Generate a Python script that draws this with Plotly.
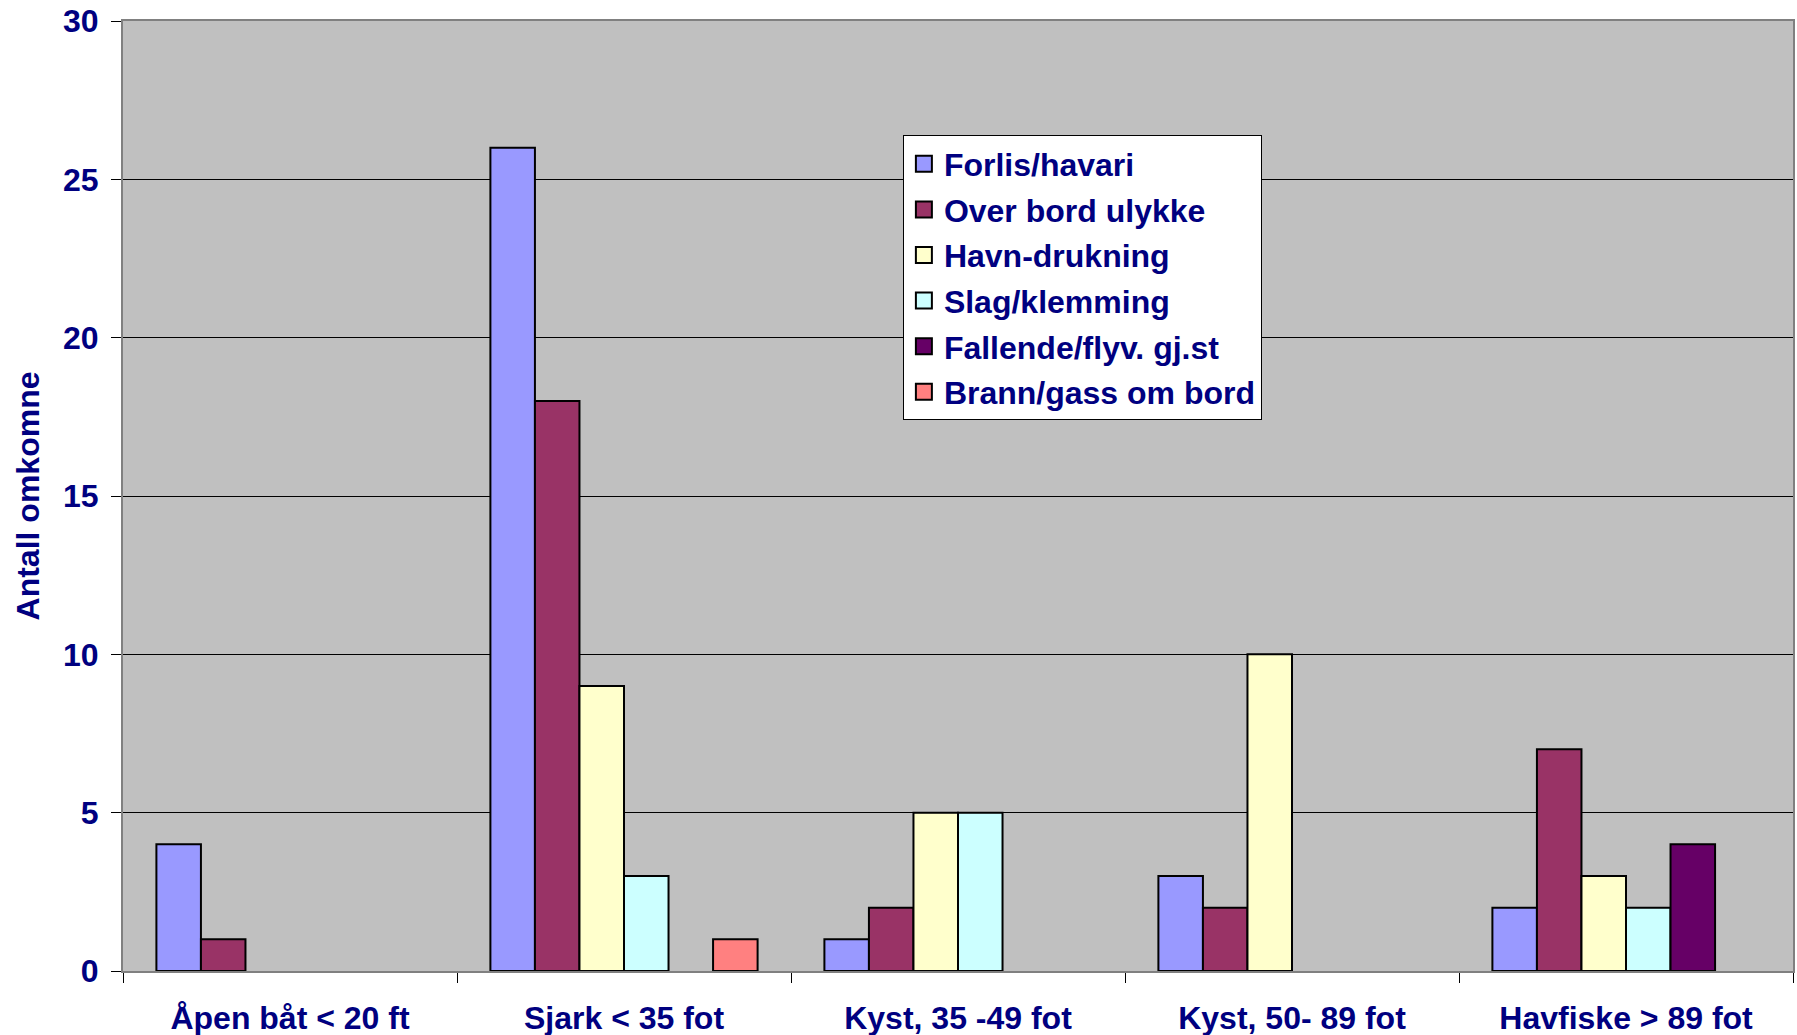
import plotly.graph_objects as go

categories = ["Åpen båt < 20 ft", "Sjark < 35 fot", "Kyst, 35 -49 fot", "Kyst, 50- 89 fot", "Havfiske > 89 fot"]
series_names = ["Forlis/havari", "Over bord ulykke", "Havn-drukning", "Slag/klemming",
                "Fallende/flyv. gj.st", "Brann/gass om bord"]
forlis = [4, 26, 1, 3, 2]
over_bord = [1, 18, 2, 2, 7]
havn = [None, 9, 5, 10, 3]
slag = [None, 3, 5, None, 2]
fallende = [None, None, None, None, 4]
brann = [None, 1, None, None, None]
series_values = [forlis, over_bord, havn, slag, fallende, brann]
colors = ["#9999FF", "#993366", "#FFFFCC", "#CCFFFF", "#660066", "#FF8080"]

navy = "#000080"
font_main = "Liberation Sans, Arial, sans-serif"

fig = go.Figure()
for name, vals, col in zip(series_names, series_values, colors):
    fig.add_trace(go.Bar(x=categories, y=vals, name=name, marker=dict(color=col, line=dict(color="black", width=2)),
                         showlegend=False))
for i, (name, col) in enumerate(zip(series_names, colors)):
    fig.add_trace(go.Scatter(x=[None], y=[None], mode="markers", name=name, legendgroup=f"g{i}",
                             marker=dict(symbol="square", size=20, color=col, line=dict(color="black", width=2))))

fig.update_layout(
    width=1797, height=1035,
    margin=dict(l=123, r=4, t=21, b=64),
    paper_bgcolor="white", plot_bgcolor="#C0C0C0",
    barmode="group", bargap=0.2, bargroupgap=0,
    font=dict(family=font_main, color=navy, size=28),
    legend=dict(x=0.467, y=0.8795, xanchor="left", yanchor="top",
                bgcolor="white", bordercolor="black", borderwidth=1,
                font=dict(family=font_main, size=32, color=navy, weight="bold"),
                traceorder="grouped", tracegroupgap=1, itemsizing="trace"),
    showlegend=True,
)
fig.update_xaxes(
    type="category", tickson="boundaries", ticks="outside", ticklen=10, tickcolor="black",
    ticklabelstandoff=18, automargin=False,
    showgrid=False, showline=True, linecolor="#808080", linewidth=2, mirror=True,
    tickfont=dict(family=font_main, size=32, color=navy, weight="bold"),
)
fig.update_yaxes(
    range=[0, 30], dtick=5, ticks="outside", ticklen=10, tickcolor="black",
    ticklabelstandoff=6, ticklabeloverflow="allow", automargin=False,
    showgrid=True, gridcolor="black", gridwidth=1, zeroline=False,
    showline=True, linecolor="#808080", linewidth=2, mirror=True,
    tickfont=dict(family=font_main, size=32, color=navy, weight="bold"),
    title=dict(text="Antall omkomne", font=dict(family=font_main, size=32, color=navy, weight="bold"), standoff=14),
)
fig.write_html("out.html", config={"displayModeBar": False},
               post_script="document.body.style.margin='0';")
